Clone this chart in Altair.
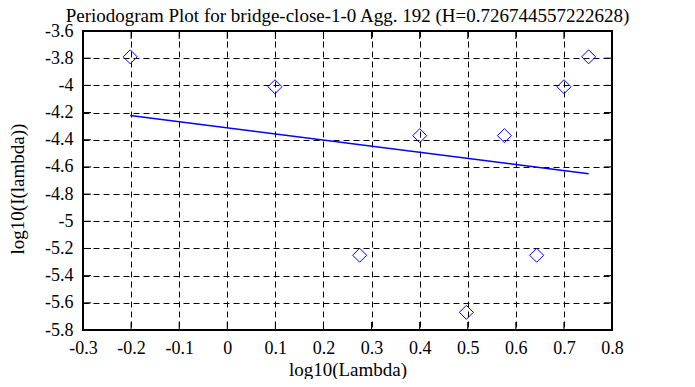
import altair as alt
import pandas as pd

# data
log_lambda = [-0.2018, 0.0992, 0.2753, 0.4002, 0.4971, 0.5763, 0.6433, 0.7002, 0.7514]
log_I = [-3.79, -4.01, -5.25, -4.37, -5.67, -4.37, -5.25, -4.01, -3.79]
fit_x = [-0.2018, 0.7514]
fit_y = [-4.222, -4.651]
x_ticks = [-0.3, -0.2, -0.1, 0.0, 0.1, 0.2, 0.3, 0.4, 0.5, 0.6, 0.7, 0.8]
y_ticks = [-3.6, -3.8, -4.0, -4.2, -4.4, -4.6, -4.8, -5.0, -5.2, -5.4, -5.6, -5.8]

W, H = 529, 299
FONT = "Liberation Serif"

pts = pd.DataFrame({"x": log_lambda, "y": log_I})
fit = pd.DataFrame({"x": fit_x, "y": fit_y})
xt = pd.DataFrame({"x": x_ticks[1:-1]})
yt = pd.DataFrame({"y": y_ticks[1:-1]})

xscale = alt.Scale(domain=[-0.3, 0.8], nice=False, zero=False)
yscale = alt.Scale(domain=[-5.8, -3.6], nice=False, zero=False)

common = dict(grid=True, ticks=False, domain=False,
              gridColor="black", gridDash=[6, 4], gridOpacity=1, gridWidth=1,
              labelFont=FONT, labelFontSize=18, labelColor="black",
              labelOverlap=False, labelBound=False, labelFlush=False,
              titleFont=FONT, titleFontSize=19, titleFontWeight="normal", titleColor="black",
              labelExpr="toString(round(datum.value*10)/10)")

xaxis = alt.Axis(values=x_ticks, title="log10(Lambda)", labelPadding=9,
                 titleX=W / 2, titleY=45, titleBaseline="alphabetic", titleAlign="center", **common)
yaxis = alt.Axis(values=y_ticks, title="log10(I(lambda))", labelPadding=10,
                 titleX=-60, titleY=H / 2 + 8, titleAngle=270, titleBaseline="alphabetic",
                 titleAlign="center", **common)

X = alt.X("x:Q", scale=xscale, axis=xaxis)
Y = alt.Y("y:Q", scale=yscale, axis=yaxis)

points = alt.Chart(pts).mark_point(shape="diamond", size=196, color="#0000ff",
                                   strokeWidth=1, filled=False, opacity=1).encode(x=X, y=Y)

line = alt.Chart(fit).mark_line(color="#0000ff", strokeWidth=1.5).encode(x=X, y=Y)

TL = 8
top_ticks = alt.Chart(xt).mark_rule(color="black", strokeWidth=1).encode(
    x=X, y=alt.value(0), y2=alt.value(TL))
bot_ticks = alt.Chart(xt).mark_rule(color="black", strokeWidth=1).encode(
    x=X, y=alt.value(H), y2=alt.value(H - TL))
left_ticks = alt.Chart(yt).mark_rule(color="black", strokeWidth=1).encode(
    y=Y, x=alt.value(0), x2=alt.value(TL))
right_ticks = alt.Chart(yt).mark_rule(color="black", strokeWidth=1).encode(
    y=Y, x=alt.value(W), x2=alt.value(W - TL))

chart = alt.layer(points, line, top_ticks, bot_ticks, left_ticks, right_ticks).properties(
    width=W, height=H,
    title=alt.Title("Periodogram Plot for bridge-close-1-0 Agg. 192 (H=0.726744557222628)",
                    font=FONT, fontSize=19, fontWeight="normal", color="black", offset=2, dy=6),
    autosize=alt.AutoSizeParams(type="none"),
    padding={"left": 75, "top": 23, "right": 60, "bottom": 49},
).configure(
    font=FONT,
    style={"guide-label": {"font": FONT, "fontSize": 18, "fill": "black"},
           "guide-title": {"font": FONT, "fontSize": 19, "fontWeight": "normal", "fill": "black"}},
).configure_view(
    stroke="black", strokeWidth=2
).configure_axis(
    labelFont=FONT, labelFontSize=18, labelColor="black", labelOverlap=False,
    titleFont=FONT,
)

chart.save("out.html", embed_options={"renderer": "svg", "actions": False})
